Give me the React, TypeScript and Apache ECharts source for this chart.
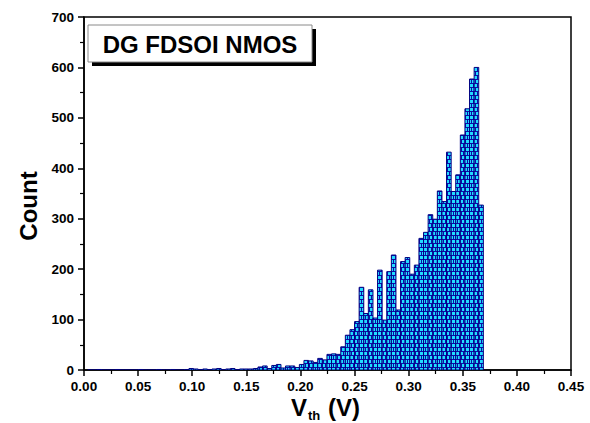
import React, { useEffect, useRef } from "react";
import * as echarts from "echarts";

// Histogram bins (V)
const binStart = 0.0035;
const binWidth = 0.00425;
// counts for bins below ~0.203 V
const lowCounts = [
  0, 0, 1, 0, 0, 0, 1, 0, 0, 0, 0, 1, 0, 0, 0, 1, 0, 0, 1, 0, 0, 1,
  3, 2, 1, 2, 1, 2, 3, 1, 2, 3, 1, 2,
  2, 2, 3, 6, 8, 3, 9, 11, 4, 8, 8, 5, 11,
];
// counts for bins from ~0.203 V to 0.369 V
const highCounts = [
  19, 18, 15, 23, 20, 31, 32, 31, 46, 69, 80, 96, 164, 112, 159, 103, 198, 99,
  195, 228, 119, 215, 223, 190, 208, 261, 273, 308, 299, 355, 334, 432, 354,
  387, 466, 518, 577, 600, 327,
];
const xTicks = [0, 0.05, 0.1, 0.15, 0.2, 0.25, 0.3, 0.35, 0.4, 0.45];
const yTicks = [0, 100, 200, 300, 400, 500, 600, 700];
const titleText = "DG FDSOI NMOS";

const FONT = '"Liberation Sans", Arial, Helvetica, sans-serif';

function makePattern(): HTMLCanvasElement {
  const c = document.createElement("canvas");
  c.width = 4;
  c.height = 8;
  const ctx = c.getContext("2d")!;
  ctx.fillStyle = "#0c0ca8";
  ctx.fillRect(0, 0, 4, 8);
  ctx.fillStyle = "#22dcff";
  ctx.fillRect(0, 0, 3, 3);
  ctx.fillRect(2, 4, 2, 3);
  ctx.fillRect(0, 4, 1, 3);
  return c;
}

export default function App() {
  const ref = useRef<HTMLDivElement>(null);
  useEffect(() => {
    if (!ref.current) return;
    const chart = echarts.init(ref.current, undefined, { renderer: "svg" });
    const pat = makePattern();
    const counts = [...lowCounts, ...highCounts];
    const data = counts.map((c, i) => [
      binStart + i * binWidth,
      binStart + (i + 1) * binWidth,
      c,
    ]);
    const fillPattern: any = {
      image: pat,
      repeat: "repeat",
      imageWidth: pat.width,
      imageHeight: pat.height,
    };
    const labelStyle = {
      color: "#000",
      fontFamily: FONT,
      fontWeight: "bold" as const,
      fontSize: 13.5,
    };
    chart.setOption({
      animation: false,
      backgroundColor: "#fff",
      grid: {
        left: 84,
        right: 19,
        top: 17,
        bottom: 53,
        show: true,
        borderColor: "#000",
        borderWidth: 1.5,
      },
      xAxis: {
        type: "value",
        min: xTicks[0],
        max: xTicks[xTicks.length - 1],
        interval: 0.05,
        axisLine: { show: true, lineStyle: { color: "#000", width: 1.5 } },
        axisTick: { show: true, length: 6, lineStyle: { color: "#000", width: 1.5 } },
        minorTick: { show: true, splitNumber: 2, length: 4, lineStyle: { color: "#000", width: 1.2 } },
        splitLine: { show: false },
        axisLabel: {
          ...labelStyle,
          margin: 9,
          formatter: (v: number) => v.toFixed(2),
        },
      },
      yAxis: {
        type: "value",
        min: yTicks[0],
        max: yTicks[yTicks.length - 1],
        interval: 100,
        axisLine: { show: true, lineStyle: { color: "#000", width: 1.5 } },
        axisTick: { show: true, length: 6, lineStyle: { color: "#000", width: 1.5 } },
        minorTick: { show: true, splitNumber: 2, length: 4, lineStyle: { color: "#000", width: 1.2 } },
        splitLine: { show: false },
        axisLabel: { ...labelStyle, margin: 10 },
      },
      series: [
        {
          type: "custom",
          clip: true,
          data,
          encode: { x: [0, 1], y: 2 },
          renderItem: (params: any, api: any) => {
            const x0 = api.value(0);
            const x1 = api.value(1);
            const y = api.value(2);
            const p0 = api.coord([x0, y]);
            const p1 = api.coord([x1, 0]);
            return {
              type: "rect",
              shape: {
                x: p0[0],
                y: p0[1],
                width: p1[0] - p0[0],
                height: p1[1] - p0[1],
              },
              style: { fill: fillPattern, stroke: "#000080", lineWidth: 1 },
            };
          },
        },
      ],
      graphic: [
        {
          type: "rect",
          shape: { x: 92, y: 29, width: 224, height: 37 },
          style: { fill: "#000" },
          z: 10,
        },
        {
          type: "rect",
          shape: { x: 88, y: 25, width: 224, height: 37 },
          style: { fill: "#fff", stroke: "#8a8a8a", lineWidth: 1 },
          z: 11,
        },
        {
          type: "text",
          x: 200,
          y: 44,
          z: 12,
          style: {
            text: titleText,
            fill: "#000",
            font: `bold 24px ${FONT}`,
            align: "center",
            verticalAlign: "middle",
          },
        },
        {
          type: "text",
          x: 28,
          y: 206,
          rotation: Math.PI / 2,
          style: {
            text: "Count",
            fill: "#000",
            font: `bold 24px ${FONT}`,
            align: "center",
            verticalAlign: "middle",
          },
        },
        {
          type: "text",
          x: 291,
          y: 407,
          style: {
            text: "V",
            fill: "#000",
            font: `bold 24px ${FONT}`,
            align: "left",
            verticalAlign: "middle",
          },
        },
        {
          type: "text",
          x: 308,
          y: 415,
          style: {
            text: "th",
            fill: "#000",
            font: `bold 13px ${FONT}`,
            align: "left",
            verticalAlign: "middle",
          },
        },
        {
          type: "text",
          x: 328,
          y: 407,
          style: {
            text: "(V)",
            fill: "#000",
            font: `bold 24px ${FONT}`,
            align: "left",
            verticalAlign: "middle",
          },
        },
      ],
    });
    return () => chart.dispose();
  }, []);
  return (
    <div
      ref={ref}
      style={{ position: "fixed", left: 0, top: 0, width: 590, height: 423 }}
    />
  );
}
